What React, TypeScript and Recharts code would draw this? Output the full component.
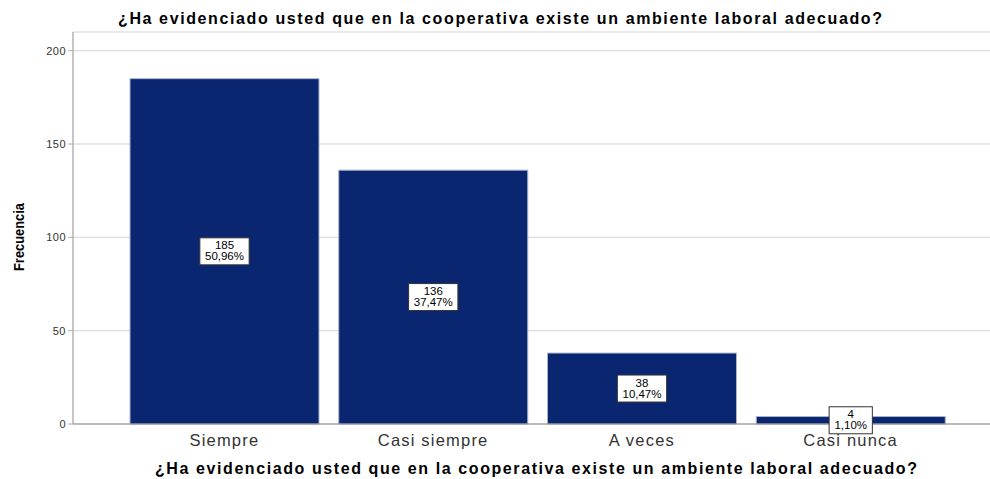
import React from 'react';
import { BarChart, Bar, XAxis, YAxis, CartesianGrid, LabelList } from 'recharts';

const QUESTION = '¿Ha evidenciado usted que en la cooperativa existe un ambiente laboral adecuado?';

const categories = ['Siempre', 'Casi siempre', 'A veces', 'Casi nunca'];
const counts = [185, 136, 38, 4];
const percents = ['50,96%', '37,47%', '10,47%', '1,10%'];
const yTicks = [0, 50, 100, 150, 200];

const data = categories.map((c, i) => ({ name: c, value: counts[i], pct: percents[i] }));

const FONT = '"Liberation Sans", Arial, sans-serif';

// rough Arial widths at 11px
const charW = (ch: string) => {
  if (ch === ',' || ch === '.') return 3.1;
  if (ch === '%') return 9.8;
  return 6.1;
};
const textW = (s: string) => s.split('').reduce((a, ch) => a + charW(ch), 0);

const BoxLabel = (props: any) => {
  const { x, y, width, height, index } = props;
  const cx = x + width / 2;
  const cy = y + height / 2;
  const top = String(counts[index]);
  const bottom = percents[index];
  const w = Math.max(textW(top), textW(bottom)) + 12;
  const h = 27;
  return (
    <g>
      <rect x={cx - w / 2} y={cy - h / 2} width={w} height={h} fill="#fff" stroke="#333" strokeWidth={1} />
      <text x={cx} y={cy - 2} textAnchor="middle" fontSize={11.5} fontFamily={FONT} fill="#000">{top}</text>
      <text x={cx} y={cy + 9} textAnchor="middle" fontSize={11.5} fontFamily={FONT} fill="#000">{bottom}</text>
    </g>
  );
};

const XTitle = () => (
  <text x={536} y={474} textAnchor="middle" fontSize={16} fontWeight="bold" fontFamily={FONT} fill="#000"
    textLength={762} lengthAdjust="spacing">
    {QUESTION}
  </text>
);

const YTitle = () => (
  <text x={0} y={0} transform="translate(24,237) rotate(-90)" textAnchor="middle" fontSize={14.5} fontWeight="bold"
    fontFamily={FONT} fill="#000" textLength={68} lengthAdjust="spacingAndGlyphs">
    Frecuencia
  </text>
);

const App: React.FC = () => {
  return (
    <div style={{ position: 'absolute', left: 0, top: 0, width: 990, height: 479, background: '#fff', fontFamily: FONT }}>
      <svg width={990} height={30} style={{ position: 'absolute', left: 0, top: 0 }}>
        <text x={500} y={24} textAnchor="middle" fontSize={16} fontWeight="bold" fontFamily={FONT} fill="#000"
          textLength={764} lengthAdjust="spacing">
          {QUESTION}
        </text>
      </svg>
      <BarChart
        width={990}
        height={479}
        data={data}
        margin={{ top: 32, right: 0, left: 13, bottom: 24 }}
        barCategoryGap={10}
      >
        <CartesianGrid vertical={false} stroke="#d4d4d4" />
        <XAxis
          dataKey="name"
          height={31}
          padding={{ left: 47, right: 35 }}
          axisLine={{ stroke: '#8c8c8c' }}
          tickLine={false}
          tick={{ fontSize: 16.5, fill: '#333', fontFamily: FONT, letterSpacing: 1.2 }}
          tickMargin={4}
          interval={0}
          label={<XTitle />}
        />
        <YAxis
          width={60}
          domain={[0, 210]}
          ticks={yTicks}
          axisLine={{ stroke: '#8c8c8c' }}
          tickLine={{ stroke: '#b0b0b0' }}
          tickSize={5}
          tickMargin={2}
          tick={{ fontSize: 11, fill: '#333', fontFamily: FONT, letterSpacing: 0.5 }}
          label={<YTitle />}
        />
        <Bar dataKey="value" fill="#0b2670" stroke="#a9b3cf" strokeWidth={1} isAnimationActive={false}>
          <LabelList dataKey="value" content={<BoxLabel />} />
        </Bar>
      </BarChart>
    </div>
  );
};

export default App;
